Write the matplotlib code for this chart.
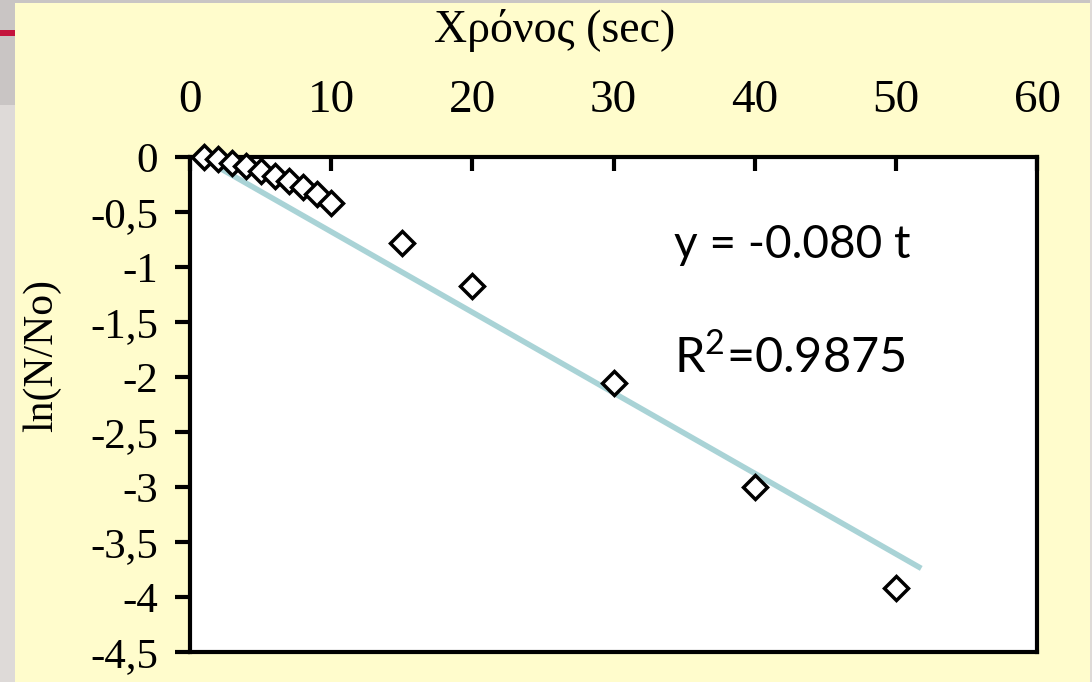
import matplotlib.pyplot as plt
from matplotlib.patches import Rectangle

# data
t = [1, 2, 3, 4, 5, 6, 7, 8, 9, 10, 15, 20, 30, 40, 50]
ln_ratio = [0.0, -0.02, -0.05, -0.08, -0.13, -0.17, -0.22, -0.27, -0.34, -0.42,
            -0.78, -1.17, -2.05, -3.0, -3.92]
fit_t = [1, 51.8]
fit_y = [-0.02, -3.74]

x_ticks = [0, 10, 20, 30, 40, 50, 60]
y_ticks = [0, -0.5, -1, -1.5, -2, -2.5, -3, -3.5, -4, -4.5]
y_labels = ["0", "-0,5", "-1", "-1,5", "-2", "-2,5", "-3", "-3,5", "-4", "-4,5"]

W, H = 1092, 682
cream = "#fffccc"
serif = "Liberation Serif"

plt.rcParams["mathtext.fontset"] = "custom"
plt.rcParams["mathtext.rm"] = "Lato"

fig = plt.figure(figsize=(W / 100, H / 100), dpi=100)
fig.patch.set_facecolor(cream)

# slide frame around the chart
fig.patches.append(Rectangle((0, 0), 15 / W, 1, transform=fig.transFigure,
                             facecolor="#dedad8", edgecolor="none", zorder=0))
fig.patches.append(Rectangle((0, 1 - 105 / H), 15 / W, 105 / H, transform=fig.transFigure,
                             facecolor="#c9c5c4", edgecolor="none", zorder=0))
fig.patches.append(Rectangle((0, 1 - 36 / H), 15 / W, 6 / H, transform=fig.transFigure,
                             facecolor="#c4143c", edgecolor="none", zorder=0))
fig.patches.append(Rectangle((0, 1 - 3 / H), 1, 3 / H, transform=fig.transFigure,
                             facecolor="#c9c5c4", edgecolor="none", zorder=0))
fig.patches.append(Rectangle((1 - 2 / W, 0), 2 / W, 1, transform=fig.transFigure,
                             facecolor="#dedad8", edgecolor="none", zorder=0))

ax = fig.add_axes([190 / W, 1 - 652 / H, (1037 - 190) / W, (652 - 157) / H])
ax.set_facecolor("white")

ax.plot(fit_t, fit_y, color="#a9d3d6", linewidth=4, solid_capstyle="butt", zorder=2)
ax.plot(t, ln_ratio, linestyle="none", marker="D", markersize=12.5,
        markerfacecolor="white", markeredgecolor="black", markeredgewidth=2.5,
        clip_on=False, zorder=5)

ax.set_xlim(0, 60)
ax.set_ylim(-4.5, 0)

ax.xaxis.tick_top()
ax.set_xticks(x_ticks)
ax.set_xticklabels([str(v) for v in x_ticks], fontfamily=serif, fontsize=34)
ax.tick_params(axis="x", direction="in", length=10, width=3, pad=25)

ax.set_yticks(y_ticks)
ax.set_yticklabels(y_labels, fontfamily=serif, fontsize=31)
ax.tick_params(axis="y", direction="out", length=11, width=3, pad=12)

for s in ax.spines.values():
    s.set_linewidth(3)
    s.set_color("black")

ax.set_ylabel("ln(N/No)", fontfamily=serif, fontsize=30)
ax.yaxis.set_label_coords(-0.152, 0.6)
fig.text(555 / W, 1 - 30 / H, "Χρόνος (sec)", fontfamily=serif, fontsize=33,
         ha="center", va="center")

ax.text(0.572, 0.822, "y = -0.080 t", transform=ax.transAxes, fontfamily="Lato",
        fontsize=33, ha="left", va="center")
ax.text(0.572, 0.595, r"R$^{\mathrm{2}}$=0.9875", transform=ax.transAxes, fontfamily="Lato",
        fontsize=35, ha="left", va="center")

fig.savefig("out.png", dpi=100, facecolor=fig.get_facecolor())
